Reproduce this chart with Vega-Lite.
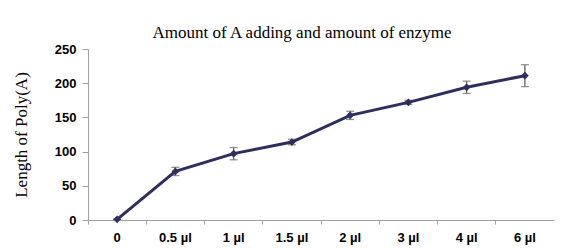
{
  "$schema": "https://vega.github.io/schema/vega-lite/v6.json",
  "autosize": "none",
  "padding": {"left": 88, "top": 49, "right": 9, "bottom": 28},
  "width": 466,
  "height": 171,
  "background": "white",
  "title": {
    "text": "Amount of A adding and amount of enzyme",
    "font": "Liberation Serif",
    "fontSize": 17,
    "fontWeight": "normal",
    "color": "#000000",
    "anchor": "middle",
    "dx": -19,
    "offset": 1
  },
  "data": {
    "values": [
      {"amount": "0", "length": 1, "err": 0},
      {"amount": "0.5 µl", "length": 71, "err": 6},
      {"amount": "1 µl", "length": 97, "err": 9},
      {"amount": "1.5 µl", "length": 114, "err": 4},
      {"amount": "2 µl", "length": 153, "err": 6},
      {"amount": "3 µl", "length": 172, "err": 3},
      {"amount": "4 µl", "length": 194, "err": 9},
      {"amount": "6 µl", "length": 211, "err": 16}
    ]
  },
  "encoding": {
    "x": {
      "field": "amount",
      "type": "nominal",
      "sort": null,
      "scale": {"paddingInner": 0, "paddingOuter": 0},
      "axis": {
        "title": null,
        "labelAngle": 0,
        "bandPosition": 0,
        "labelFont": "Liberation Sans",
        "labelFontWeight": "bold",
        "labelFontSize": 13,
        "labelColor": "#000000",
        "labelPadding": 7,
        "domainColor": "#a0a0a0",
        "tickColor": "#a0a0a0",
        "tickSize": 4
      }
    },
    "y": {
      "field": "length",
      "type": "quantitative",
      "scale": {"domain": [0, 250]},
      "axis": {
        "title": "Length of Poly(A)",
        "titleFont": "Liberation Serif",
        "titleFontSize": 17,
        "titleFontWeight": "normal",
        "titleColor": "#000000",
        "titlePadding": 24,
        "values": [0, 50, 100, 150, 200, 250],
        "grid": false,
        "labelFont": "Liberation Sans",
        "labelFontWeight": "bold",
        "labelFontSize": 13,
        "labelColor": "#000000",
        "labelPadding": 6,
        "domainColor": "#a0a0a0",
        "tickColor": "#a0a0a0",
        "tickSize": 6
      }
    }
  },
  "layer": [
    {
      "mark": {"type": "errorbar", "ticks": {"size": 8, "color": "#666666"}, "color": "#666666", "thickness": 1.3},
      "encoding": {
        "yError": {"field": "err"}
      }
    },
    {
      "mark": {"type": "line", "color": "#2e2e5e", "strokeWidth": 3, "point": {"shape": "diamond", "size": 60, "filled": true, "color": "#2e2e5e"}}
    }
  ],
  "config": {"view": {"stroke": null}}
}
